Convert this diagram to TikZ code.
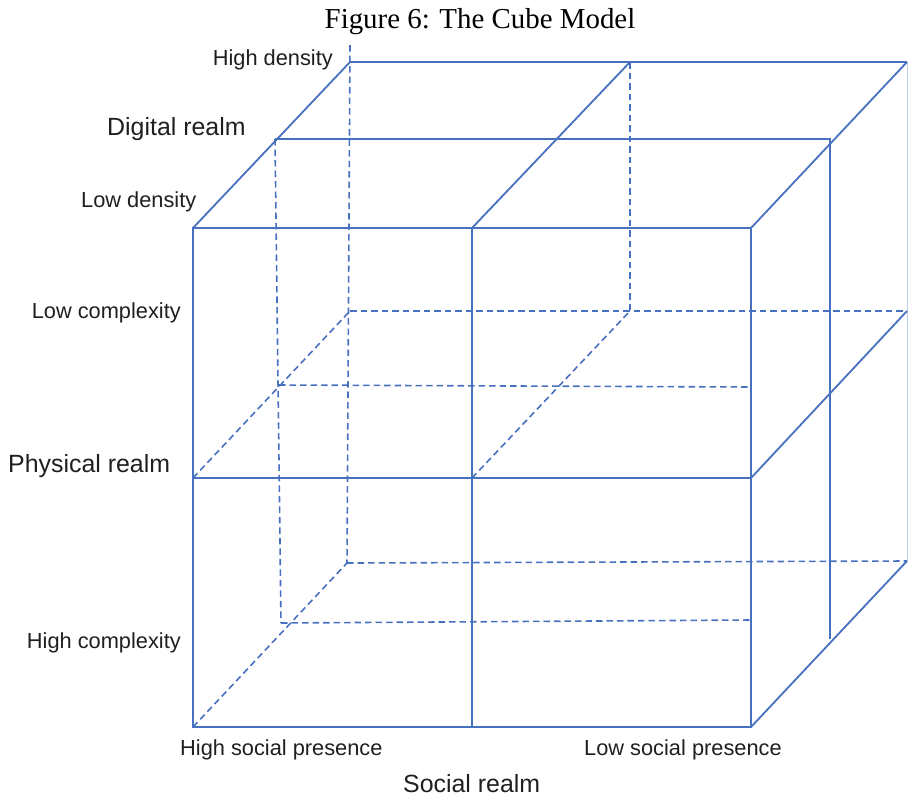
\documentclass[tikz,border=0pt]{standalone}
\usepackage{fontspec}
\setmainfont{Liberation Serif}
\setsansfont{Liberation Sans}
\begin{document}
\begin{tikzpicture}[x=1pt,y=-1pt,
  edge/.style={draw=cubeblue,line width=1.8pt},
  hidden/.style={draw=cubeblue,line width=1.6pt,dash pattern=on 6.5pt off 4pt},
  faint/.style={draw=cubeblue!35,line width=0.8pt},
  lbl/.style={inner sep=0pt,font=\sffamily\fontsize{21.8}{24}\selectfont,text=black!88},
  biglbl/.style={inner sep=0pt,font=\sffamily\fontsize{24.9}{28}\selectfont,text=black!88},
  ttl/.style={inner sep=0pt,font=\rmfamily\fontsize{28.9}{32}\selectfont}]
\definecolor{cubeblue}{RGB}{72,112,192}
\useasboundingbox (0,0) rectangle (908,796);

% front face
\coordinate (F00) at (193,228); \coordinate (F10) at (472,228); \coordinate (F20) at (751,228);
\coordinate (F01) at (193,478); \coordinate (F11) at (472,478); \coordinate (F21) at (751,478);
\coordinate (F02) at (193,727); \coordinate (F12) at (472,727); \coordinate (F22) at (751,727);
% back face
\coordinate (Btop) at (350,45);
\coordinate (B00) at (350,62);  \coordinate (B10) at (630,62);  \coordinate (B20) at (907,62);
\coordinate (B01) at (350,311); \coordinate (B11) at (630,311); \coordinate (B21) at (907,311);
\coordinate (B02) at (347,563); \coordinate (B22) at (907,561);
% middle layer
\coordinate (M00) at (275,139); \coordinate (M20) at (830,139); \coordinate (M2b) at (830,639);
\coordinate (M01) at (279,385); \coordinate (M21) at (751,387);
\coordinate (M02) at (281,623); \coordinate (M22) at (751,620);

% hidden edges
\draw[hidden] (Btop) -- (B02);
\draw[hidden] (M00) -- (M02);
\draw[hidden] (B10) -- (B11);
\draw[hidden] (F01) -- (B01);
\draw[hidden] (F11) -- (B11);
\draw[hidden] (F02) -- (B02);
\draw[hidden] (B01) -- (B21);
\draw[hidden] (M01) -- (M21);
\draw[hidden] (B02) -- (B22);
\draw[hidden] (M02) -- (M22);

% back right edge
\draw[faint] (B20) -- (B22);

% visible edges
\draw[edge] (F00) -- (F20) -- (F22) -- (F02) -- cycle;
\draw[edge] (F10) -- (F12);
\draw[edge] (F01) -- (F21);
\draw[edge] (F00) -- (B00);
\draw[edge] (F10) -- (B10);
\draw[edge] (F20) -- (B20);
\draw[edge] (F21) -- (B21);
\draw[edge] (F22) -- (B22);
\draw[edge] (B00) -- (B20);
\draw[edge] (M00) -- (M20) -- (M2b);

% labels
\node[ttl] (title) at (480,22) {Figure 6: The Cube Model};
\node[lbl,anchor=base east] (hd) at (333,65) {High density};
\node[biglbl,anchor=base west] (dr) at (107,135) {Digital realm};
\node[lbl,anchor=base west] (ld) at (81,207) {Low density};
\node[lbl,anchor=base east] (lc) at (181,318) {Low complexity};
\node[biglbl,anchor=base west] (pr) at (8,472) {Physical realm};
\node[lbl,anchor=base east] (hc) at (181,648) {High complexity};
\node[lbl,anchor=base west] (hs) at (180,755) {High social presence};
\node[lbl,anchor=base west] (ls) at (584,755) {Low social presence};
\node[biglbl,anchor=base west] (sr) at (403,792) {Social realm};
\end{tikzpicture}
\end{document}
